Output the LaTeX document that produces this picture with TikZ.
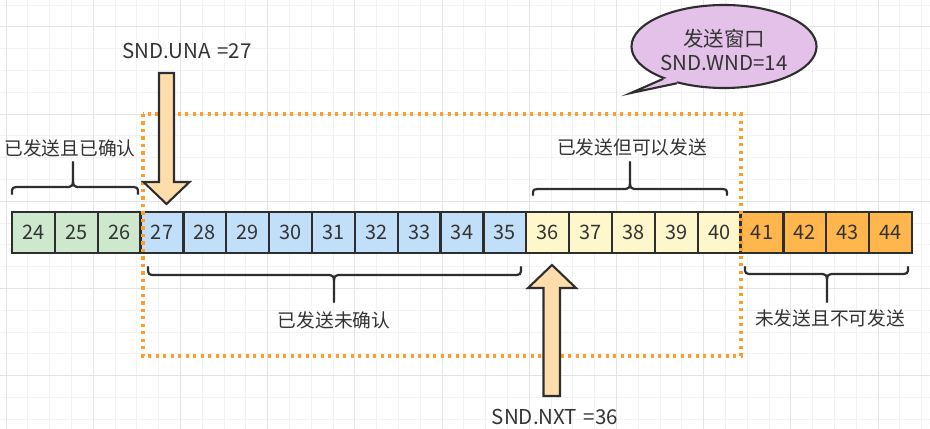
\documentclass[tikz,border=0pt]{standalone}
\usepackage{fontspec}
\setmainfont{Noto Sans CJK SC}
\usetikzlibrary{calc}
\usetikzlibrary{shapes.geometric}
\usetikzlibrary{positioning}

\definecolor{txtgray}{HTML}{333333}
\definecolor{linegray}{HTML}{2E2E2E}
\definecolor{gridminor}{HTML}{F2F2F2}
\definecolor{gridmajor}{HTML}{E4E4E4}
\definecolor{ackfill}{HTML}{CDE8CD}
\definecolor{unackfill}{HTML}{C2DFFA}
\definecolor{sendfill}{HTML}{FFF7CC}
\definecolor{nosendfill}{HTML}{FFB74D}
\definecolor{arrowfill}{HTML}{FFDDAA}
\definecolor{wndfill}{HTML}{E3C1E8}
\definecolor{wndline}{HTML}{FF9D2A}

\tikzset{
  cell/.style={draw=linegray,line width=1.9pt,minimum width=1.2857cm,minimum height=1.23cm,
    inner sep=0pt,text=txtgray,font=\fontsize{17}{19}\selectfont},
  lbl/.style={inner sep=0pt,text=txtgray,font=\fontsize{16}{19}\selectfont},
  ptrlbl/.style={inner sep=0pt,text=txtgray,font=\fontsize{17.5}{20}\selectfont},
  bracestyle/.style={draw=linegray,line width=1.9pt,line cap=round},
  bigarrow/.style={draw=linegray,line width=1.8pt,fill=arrowfill},
  wndbox/.style={draw=wndline,line width=2.6pt,dash pattern=on 2.6pt off 3.8pt},
}

% x1, x2, x tip, y ends, y bar, y joint, y tip
\newcommand{\sndbrace}[7]{%
  \draw[bracestyle] (#1,#4) .. controls (#1,#5) .. ({#1+9},#5) -- ({#3-8},#5)
    .. controls (#3,#5) .. (#3,#6) -- (#3,#7)
    (#3,#6) .. controls (#3,#5) .. ({#3+8},#5) -- ({#2-9},#5)
    .. controls (#2,#5) .. (#2,#4);}

\begin{document}
\begin{tikzpicture}[x=0.03cm,y=-0.03cm]

  \useasboundingbox (0,0) rectangle (930,429);

  % background grid
  \foreach \gi in {0,...,42}
    \draw[gridminor,line width=0.6pt] ({6+21.8*\gi},0) -- ({6+21.8*\gi},429);
  \foreach \gj in {0,...,19}
    \draw[gridminor,line width=0.6pt] (0,{5+21.8*\gj}) -- (930,{5+21.8*\gj});
  \foreach \gi in {0,...,10}
    \draw[gridmajor,line width=0.6pt] ({6+87.2*\gi},0) -- ({6+87.2*\gi},429);
  \foreach \gj in {0,...,4}
    \draw[gridmajor,line width=0.6pt] (0,{26.8+87.2*\gj}) -- (930,{26.8+87.2*\gj});

  % sequence numbers
  \foreach \n in {24,...,26}
    \node[cell,fill=ackfill] (c\n) at ({33.43+42.857*(\n-24)},232.5) {\n};
  \foreach \n in {27,...,35}
    \node[cell,fill=unackfill] (c\n) at ({33.43+42.857*(\n-24)},232.5) {\n};
  \foreach \n in {36,...,40}
    \node[cell,fill=sendfill] (c\n) at ({33.43+42.857*(\n-24)},232.5) {\n};
  \foreach \n in {41,...,44}
    \node[cell,fill=nosendfill] (c\n) at ({33.43+42.857*(\n-24)},232.5) {\n};

  % braces and their labels
  \sndbrace{12}{138}{73}{194}{187}{175}{162}
  \sndbrace{533}{727}{630}{195}{189}{177}{162}
  \sndbrace{148}{521}{334}{267}{275}{287}{302}
  \sndbrace{745}{908}{827}{267}{274}{286}{302}

  \node[lbl] (acked) at (70,148) {已发送且已确认};
  \node[lbl] (sendok) at (632,147) {已发送但可以发送};
  \node[lbl] (unacked) at (334,320) {已发送未确认};
  \node[lbl] (nosend) at (830,318) {未发送且不可发送};

  % send window
  \draw[wndbox] (143,114) rectangle (741,356);

  % pointers
  \node[ptrlbl] (una) at (187,51) {SND.UNA\,\,=27};
  \draw[bigarrow] (159,73) -- (174,73) -- (174,182) -- (189.5,182) -- (166.5,204)
    -- (143.5,182) -- (159,182) -- cycle;

  \node[ptrlbl] (nxt) at (555,417) {SND.NXT\,\,=36};
  \draw[bigarrow] (543.5,396) -- (560,396) -- (560,288) -- (576,288) -- (552,265)
    -- (528,288) -- (543.5,288) -- cycle;

  % callout
  \node[ellipse,draw=linegray,line width=1.8pt,fill=wndfill,
    minimum width=5.55cm,minimum height=2.49cm] (wnd) at (724,46.5) {};
  \coordinate (wndtip) at (631,93);
  \fill[wndfill] (wnd.208) -- (wndtip) -- (wnd.218) -- ($(wnd.center)!0.85!(wnd.213)$) -- cycle;
  \draw[linegray,line width=1.8pt,line join=miter] (wnd.208) -- (wndtip) -- (wnd.218);
  \node[ptrlbl,align=center] (wndtext) at (724,50) {发送窗口\\SND.WND=14};

\end{tikzpicture}
\end{document}
